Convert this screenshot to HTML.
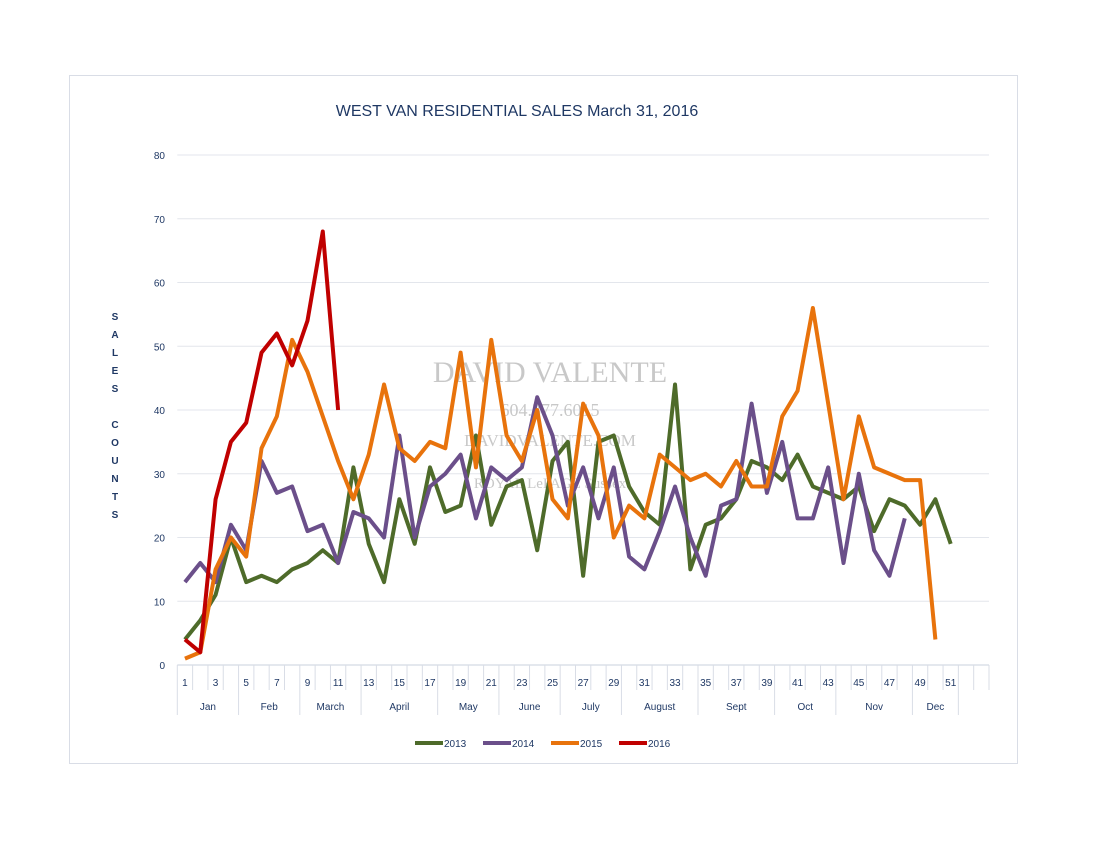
<!DOCTYPE html>
<html><head><meta charset="utf-8"><style>
body{margin:0;background:#fff;}
svg{display:block;font-family:"Liberation Sans",sans-serif;}
</style></head><body>
<svg id="chart" width="1100" height="850">
<rect x="69.5" y="75.5" width="948" height="688" fill="#fff" stroke="#d9dde6"/>
<text x="517" y="116" text-anchor="middle" font-size="16" fill="#1f3864">WEST VAN RESIDENTIAL SALES March 31, 2016</text>
<g id="grid"></g><g id="yt"></g><g id="xt"></g>
<g fill="#c8c8c8" font-family="Liberation Serif,serif" text-anchor="middle">
<text x="550" y="382" font-size="30">DAVID VALENTE</text>
<text x="550" y="416" font-size="18">604.377.6015</text>
<text x="550" y="446" font-size="17">DAVIDVALENTE.COM</text>
<text x="550" y="488" font-size="15">ROYAL LePAGE Sussex</text>
</g>
<g id="series"></g>
<g id="yaxistitle" font-size="10" fill="#1f3864" font-weight="bold" text-anchor="middle"></g>
<g id="legend"></g>
</svg>
<script>
const weeks=[];for(let i=1;i<=53;i++)weeks.push(i);
const yTicks=[0,10,20,30,40,50,60,70,80];
const months=["Jan","Feb","March","April","May","June","July","August","Sept","Oct","Nov","Dec"];
const monthStart=[1,5,9,13,18,22,26,30,35,40,44,49];
const monthEnd=[4,8,12,17,21,25,29,34,39,43,48,51];
const seriesNames=["2013","2014","2015","2016"];
const s2013=[4,7,11,20,13,14,13,15,16,18,16,31,19,13,26,19,31,24,25,36,22,28,29,18,32,35,14,35,36,28,24,22,44,15,22,23,26,32,31,29,33,28,27,26,28,21,26,25,22,26,19];
const s2014=[13,16,13,22,18,32,27,28,21,22,16,24,23,20,36,20,28,30,33,23,31,29,31,42,36,25,31,23,31,17,15,21,28,20,14,25,26,41,27,35,23,23,31,16,30,18,14,23];
const s2015=[1,2,15,20,17,34,39,51,46,39,32,26,33,44,34,32,35,34,49,31,51,36,32,40,26,23,41,36,20,25,23,33,31,29,30,28,32,28,28,39,43,56,41,26,39,31,30,29,29,4];
const s2016=[4,2,26,35,38,49,52,47,54,68,40];
const colors=["#4e6b2a","#6b4f8a","#e8730c","#c00000"];
const NS="http://www.w3.org/2000/svg";
const L=177.3,R=989,Y0=665,Y80=155,slot=(R-L)/53;
const x=w=>L+(w-0.5)*slot, y=v=>Y0-(v/80)*(Y0-Y80);
function mk(t,a,p){const e=document.createElementNS(NS,t);for(const k in a)e.setAttribute(k,a[k]);(p||document.getElementById('chart')).appendChild(e);return e;}
const grid=document.getElementById('grid'),yt=document.getElementById('yt'),xt=document.getElementById('xt');
yTicks.forEach(v=>{
 const g=mk('line',{x1:L,x2:R,y1:y(v),y2:y(v),stroke:v===0?'#c9d0dc':'#e3e6ec','stroke-width':1},grid);
 
 
 const t=mk('text',{x:165,y:y(v)+4,'text-anchor':'end','font-size':10,fill:'#1f3864'},yt);t.textContent=v;
 
 
});
for(let i=0;i<=53;i++){
 const xx=L+i*slot;
 const ln=mk('line',{x1:xx,x2:xx,y1:Y0,y2:690,stroke:'#d9dde6'},xt);
 
 
}
weeks.forEach(w=>{ if(w%2===1&&w<=51){const t=mk('text',{x:x(w),y:686,'text-anchor':'middle','font-size':10,fill:'#1f3864'},xt);t.textContent=w;
 
 }});
months.forEach((m,i)=>{
 const a=L+(monthStart[i]-1)*slot,b=L+monthEnd[i]*slot;
 const t=mk('text',{x:(a+b)/2,y:710,'text-anchor':'middle','font-size':10,fill:'#1f3864'},xt);t.textContent=m;
 
 
 const ln=mk('line',{x1:b,x2:b,y1:690,y2:715,stroke:'#d9dde6'},xt);
 
 
 if(i===0){const l0=mk('line',{x1:a,x2:a,y1:690,y2:715,stroke:'#d9dde6'},xt);
 
 }
});
const ser=document.getElementById('series');
[s2013,s2014,s2015,s2016].forEach((d,i)=>{
 const p=mk('polyline',{points:d.map((v,k)=>x(k+1)+','+y(v)).join(' '),fill:'none',stroke:colors[i],'stroke-width':4,'stroke-linejoin':'round'},ser);
 
 
});
const yat=document.getElementById('yaxistitle');
const letters="SALES COUNTS".split('');
letters.forEach((c,i)=>{ if(c!==' '){const t=mk('text',{x:115,y:320+i*18},yat);t.textContent=c;}});
const leg=document.getElementById('legend');
seriesNames.forEach((n,i)=>{
 const lx=415+i*68;
 const g=mk('g',{},leg);
 
 
 mk('line',{x1:lx,x2:lx+28,y1:743,y2:743,stroke:colors[i],'stroke-width':4},g);
 const t=mk('text',{x:lx+29,y:747,'font-size':10,fill:'#1f3864'},g);t.textContent=n;
});
</script>
</body></html>
